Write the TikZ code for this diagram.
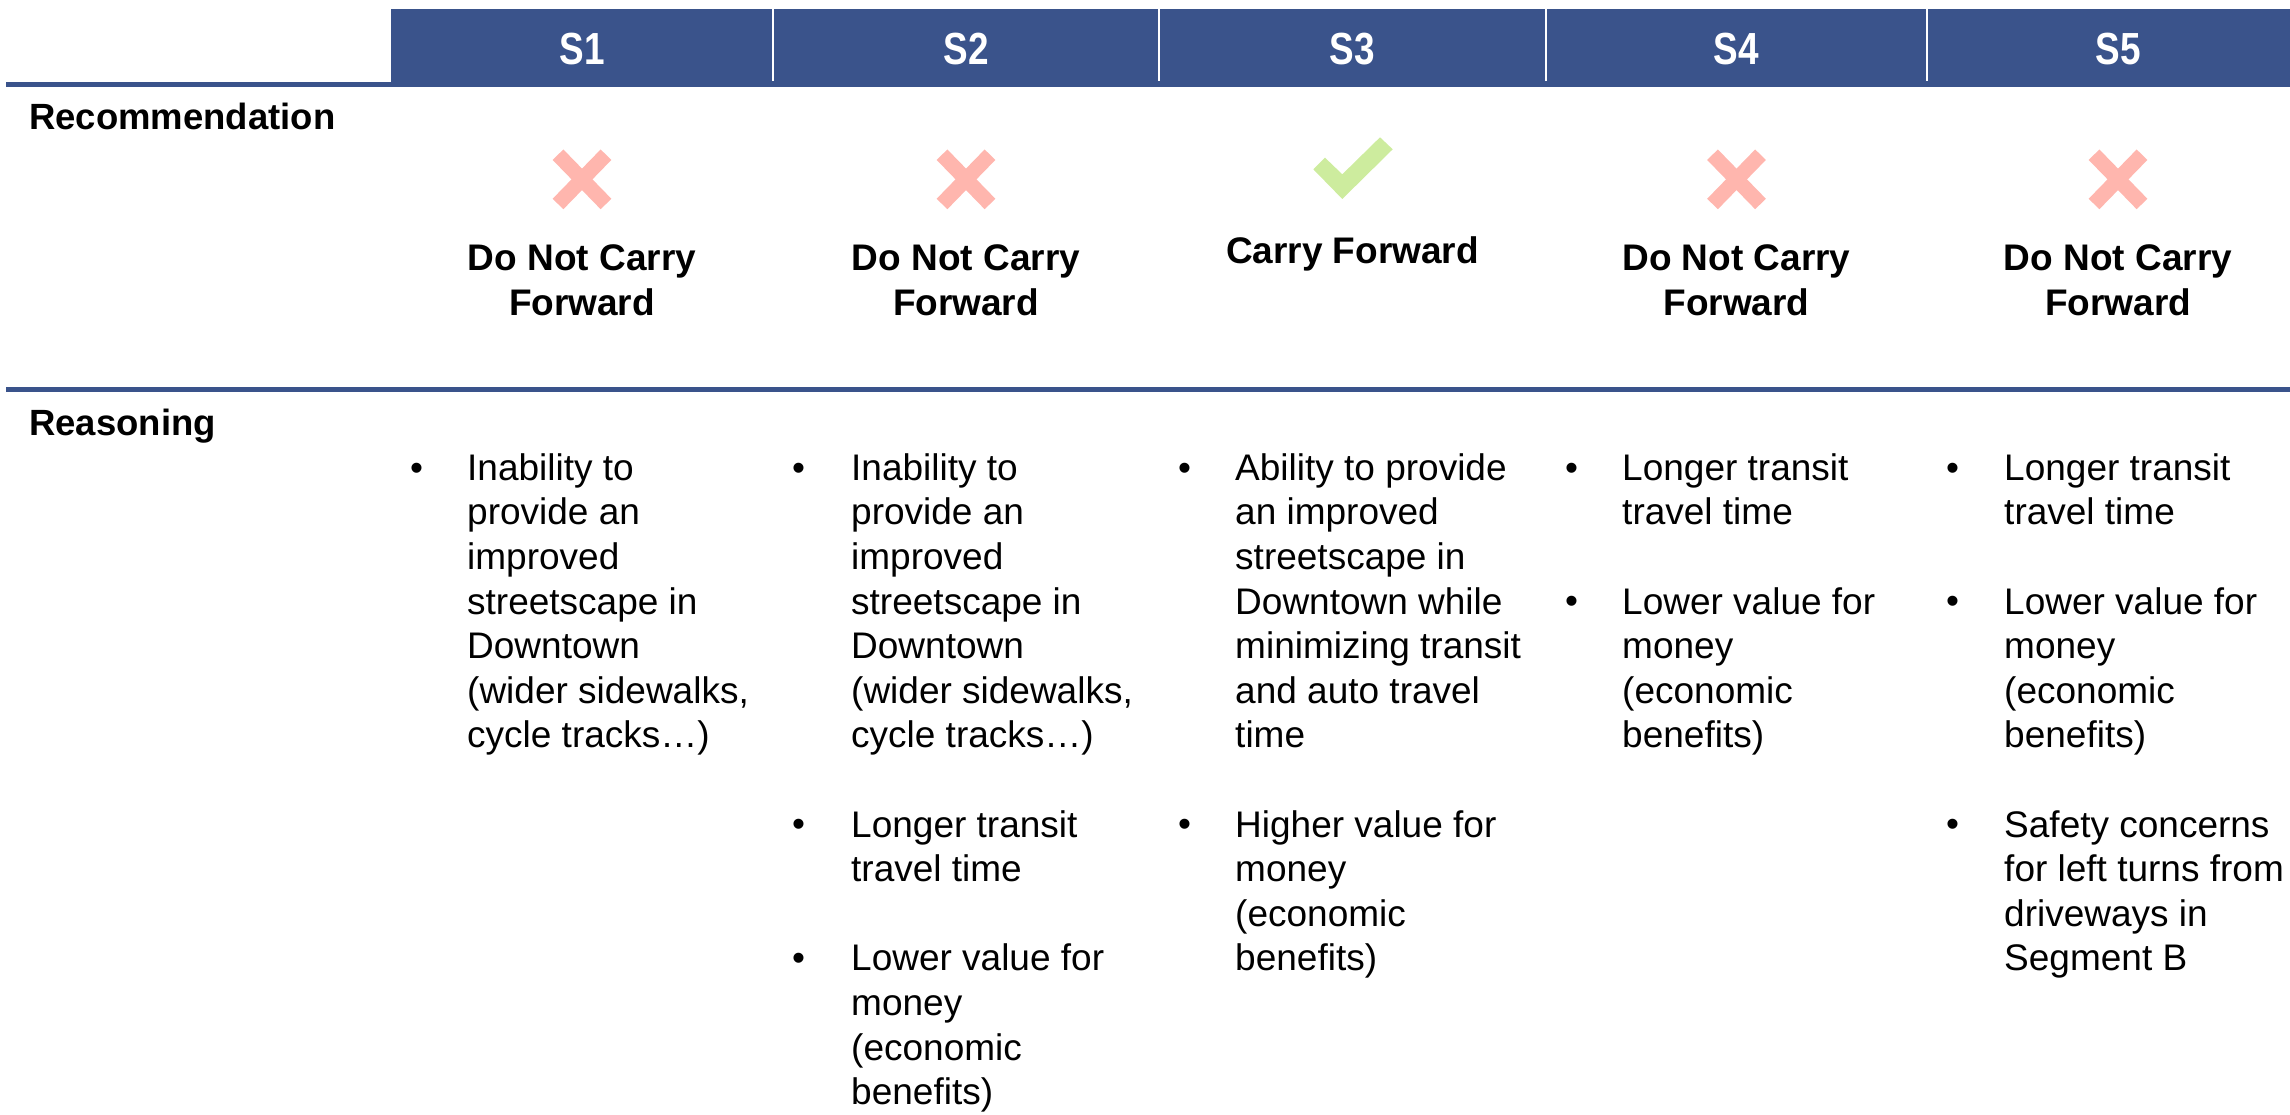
\documentclass[tikz,border=0pt]{standalone}
\usepackage{fontspec}
\setmainfont{Liberation Sans}
\newfontfamily\hdrfont{Liberation Sans Bold}[FakeStretch=0.82]
\definecolor{hdrblue}{RGB}{58,83,139}
\definecolor{crossred}{RGB}{255,182,174}
\definecolor{checkgreen}{RGB}{205,236,158}
\tikzset{
  hdrlbl/.style={font=\hdrfont\fontsize{45}{54}\selectfont, text=white, anchor=base, inner sep=0pt},
  rowlbl/.style={font=\bfseries\fontsize{36.5}{44}\selectfont, anchor=base west, inner sep=0pt},
  reclbl/.style={font=\bfseries\fontsize{37}{45}\selectfont, anchor=north, align=center, inner sep=0pt},
  bulmark/.style={font=\fontsize{37}{44.6}\selectfont, anchor=base, inner sep=0pt},
  bultext/.style={font=\fontsize{37}{44.6}\selectfont, anchor=north west, align=left, inner sep=0pt},
  rule/.style={draw=hdrblue, line width=5.6pt},
  divider/.style={draw=white, line width=2.5pt},
  crossarm/.style={draw=crossred, line width=15pt, line cap=butt},
}
\newcommand{\crossmark}[1]{%
  \draw[crossarm] (#1-24,154.7) -- (#1+24,204);
  \draw[crossarm] (#1+24,154.7) -- (#1-24,204);
}
\begin{document}
\begin{tikzpicture}[x=1pt,y=-1pt]
\useasboundingbox (0,0) rectangle (2290,1115);
% header band
\fill[hdrblue] (391,9) rectangle (2290,87);
\draw[rule] (6,84.5) -- (2290,84.5);
\foreach \dx in {773,1159,1546,1927} \draw[divider] (\dx,9) -- (\dx,81.5);
\draw[rule] (6,389.5) -- (2290,389.5);
% header labels
\node[hdrlbl] (h1) at (582,65) {S1};
\node[hdrlbl] (h2) at (966,65) {S2};
\node[hdrlbl] (h3) at (1352.5,65) {S3};
\node[hdrlbl] (h4) at (1736.5,65) {S4};
\node[hdrlbl] (h5) at (2118,65) {S5};
% row labels
\node[rowlbl] (recl) at (29,130) {Recommendation};
\node[rowlbl] (reasl) at (29,435) {Reasoning};
% marks
\crossmark{582}
\crossmark{966}
\crossmark{1736.5}
\crossmark{2118}
\fill[checkgreen] (1313.3,169.3) -- (1325,157.7) -- (1342.3,174.3) -- (1380,137.3) -- (1392.7,149.3) -- (1342.3,199) -- cycle;
% recommendations
\node[reclbl] (r1) at (582,238.5) {\strut Do Not Carry\\Forward};
\node[reclbl] (r2) at (966,238.5) {\strut Do Not Carry\\Forward};
\node[reclbl] (r3) at (1352.5,231.5) {\strut Carry Forward};
\node[reclbl] (r4) at (1736.5,238.5) {\strut Do Not Carry\\Forward};
\node[reclbl] (r5) at (2118,238.5) {\strut Do Not Carry\\Forward};
% reasoning: baselines 480 + 44.6 k ; node top = baseline - 31.22
% column 1
\node[bulmark] (b1a) at (416.5,480) {•};
\node[bultext] (t1a) at (467,448.78) {\strut Inability to\\provide an\\improved\\streetscape in\\Downtown\\(wider sidewalks,\\cycle tracks…)};
% column 2
\node[bulmark] (b2a) at (798.5,480) {•};
\node[bultext] (t2a) at (851,448.78) {\strut Inability to\\provide an\\improved\\streetscape in\\Downtown\\(wider sidewalks,\\cycle tracks…)};
\node[bulmark] (b2b) at (798.5,836.8) {•};
\node[bultext] (t2b) at (851,805.58) {\strut Longer transit\\travel time};
\node[bulmark] (b2c) at (798.5,970.6) {•};
\node[bultext] (t2c) at (851,939.38) {\strut Lower value for\\money\\(economic\\benefits)};
% column 3
\node[bulmark] (b3a) at (1184.5,480) {•};
\node[bultext] (t3a) at (1235,448.78) {\strut Ability to provide\\an improved\\streetscape in\\Downtown while\\minimizing transit\\and auto travel\\time};
\node[bulmark] (b3b) at (1184.5,836.8) {•};
\node[bultext] (t3b) at (1235,805.58) {\strut Higher value for\\money\\(economic\\benefits)};
% column 4
\node[bulmark] (b4a) at (1571.5,480) {•};
\node[bultext] (t4a) at (1622,448.78) {\strut Longer transit\\travel time};
\node[bulmark] (b4b) at (1571.5,613.8) {•};
\node[bultext] (t4b) at (1622,582.58) {\strut Lower value for\\money\\(economic\\benefits)};
% column 5
\node[bulmark] (b5a) at (1952.5,480) {•};
\node[bultext] (t5a) at (2004,448.78) {\strut Longer transit\\travel time};
\node[bulmark] (b5b) at (1952.5,613.8) {•};
\node[bultext] (t5b) at (2004,582.58) {\strut Lower value for\\money\\(economic\\benefits)};
\node[bulmark] (b5c) at (1952.5,836.8) {•};
\node[bultext] (t5c) at (2004,805.58) {\strut Safety concerns\\for left turns from\\driveways in\\Segment B};
\end{tikzpicture}
\end{document}
